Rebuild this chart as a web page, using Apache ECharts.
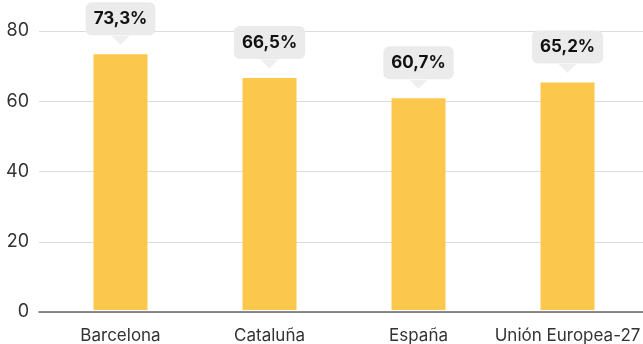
<!DOCTYPE html>
<html><head><meta charset="utf-8">
<script src="https://cdn.jsdelivr.net/npm/echarts@6/dist/echarts.min.js"></script>
<style>html,body{margin:0;padding:0;background:#fff}#c{width:643px;height:344px}</style>
</head><body><div id="c"></div>
<script>
const categories = ['Barcelona', 'Cataluña', 'España', 'Unión Europea-27'];
const values = [73.3, 66.5, 60.7, 65.2];
const yTicks = [0, 20, 40, 60, 80];

const FONT = 'Inter, "Noto Sans", sans-serif';
const chart = echarts.init(document.getElementById('c'), null, {renderer: 'canvas'});
chart.setOption({
  animation: false,
  grid: [
    {left: 46, right: -2, top: 31, bottom: 32},
    {left: 39, right: 0, top: 31, bottom: 32}
  ],
  xAxis: [
    {type: 'category', gridIndex: 0, data: categories,
     axisLine: {show: false}, axisTick: {show: false},
     axisLabel: {color: '#333', fontFamily: FONT, fontSize: 17, margin: 17, interval: 0, hideOverlap: false}},
    {type: 'value', gridIndex: 1, min: 0, max: 1,
     axisLine: {show: true, onZero: true, lineStyle: {color: '#666', width: 1.5}},
     axisTick: {show: false}, axisLabel: {show: false}, splitLine: {show: false}}
  ],
  yAxis: [
    {type: 'value', gridIndex: 0, min: yTicks[0], max: yTicks[yTicks.length-1], interval: 20, show: false, splitLine: {show: false}},
    {type: 'value', gridIndex: 1, min: yTicks[0], max: yTicks[yTicks.length-1], interval: 20,
     axisLine: {show: false}, axisTick: {show: false},
     axisLabel: {color: '#333', fontFamily: FONT, fontSize: 18, margin: 10},
     splitLine: {lineStyle: {color: '#dcdcdc', width: 1}}}
  ],
  series: [
    {type: 'bar', xAxisIndex: 0, yAxisIndex: 0, data: values, barWidth: 54,
     itemStyle: {color: '#fcc74d'},
     label: {show: true, position: 'top', distance: 19,
       formatter: p => p.value.toFixed(1).replace('.', ',') + '%',
       color: '#111', fontFamily: FONT, fontWeight: 'bold', fontSize: 17,
       backgroundColor: '#ebebeb', borderRadius: 6, padding: [6, 8, 6, 8], lineHeight: 21}},
    {type: 'scatter', xAxisIndex: 0, yAxisIndex: 0, data: values,
     symbol: 'triangle', symbolRotate: 180, symbolSize: [18, 9], symbolOffset: [0, -14],
     itemStyle: {color: '#ebebeb'}, silent: true, z: 3}
  ]
});
</script></body></html>
